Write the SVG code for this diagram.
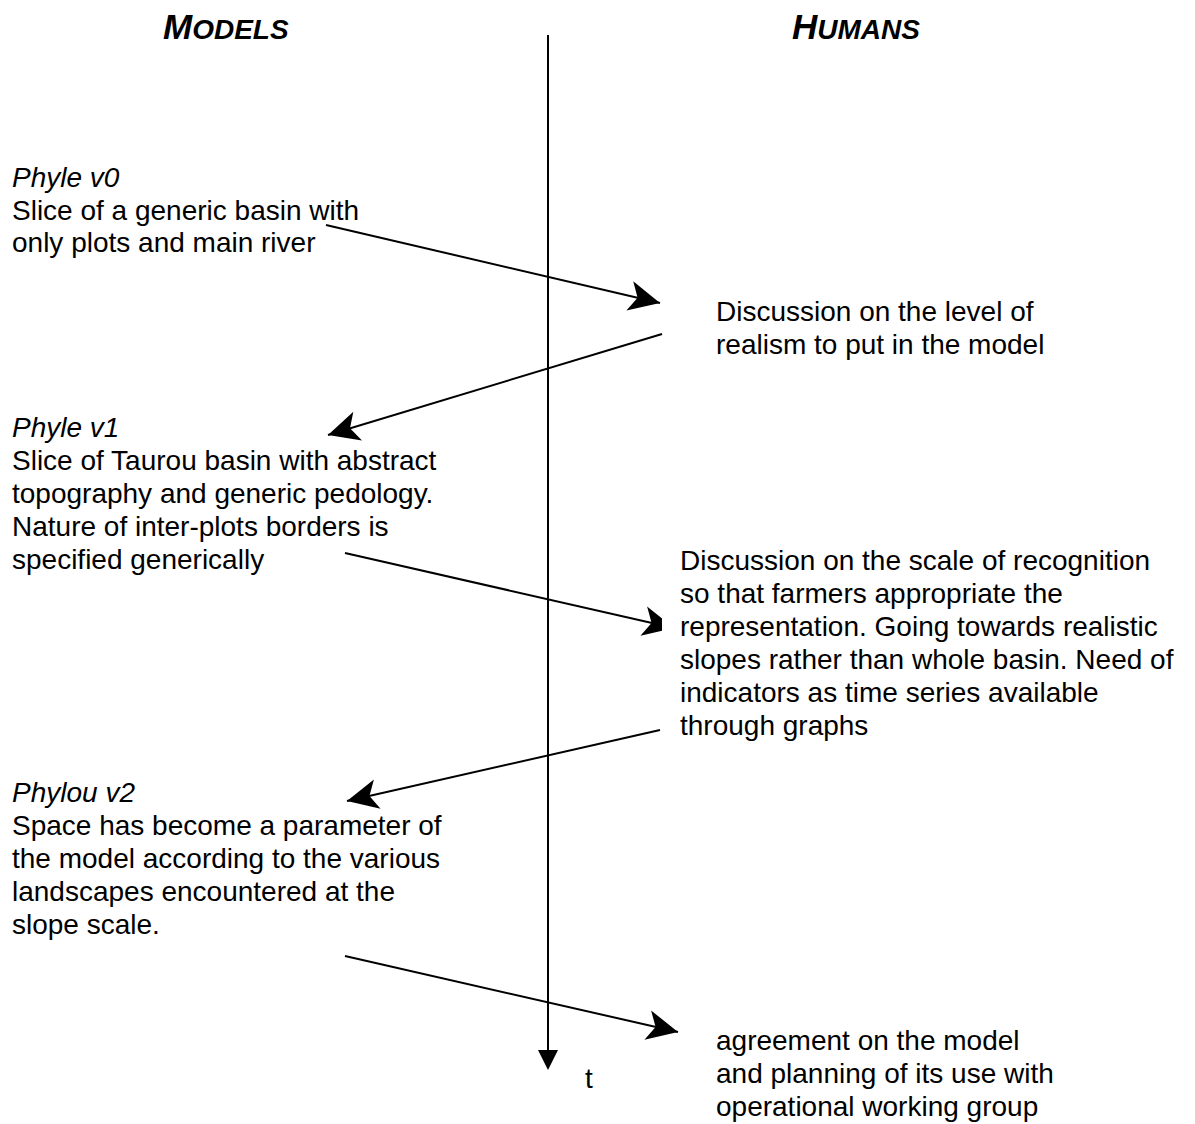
<svg xmlns="http://www.w3.org/2000/svg" width="1195" height="1124" viewBox="0 0 1195 1124">
<style>
text{font-family:"Liberation Sans",Arial,sans-serif;font-size:28px;fill:#000}
.it{font-style:italic}
.hd{font-style:italic;font-weight:bold;font-size:28px}
.big{font-size:35px}
.ln{stroke:#000;stroke-width:2;fill:none}
</style>
<defs>
<marker id="st" markerUnits="userSpaceOnUse" markerWidth="36" markerHeight="32" refX="32" refY="15" orient="auto" viewBox="0 0 36 30">
<path d="M32,15 L1,0 L9,15 L1,30 Z" fill="#000"/>
</marker>
</defs>
<g id="headers">
<text class="hd" x="163" y="39"><tspan class="big">M</tspan>ODELS</text>
<text class="hd" x="792" y="39"><tspan class="big">H</tspan>UMANS</text>
</g>
<g id="connectors">
<line class="ln" x1="548" y1="35" x2="548" y2="1052"/>
<path d="M548,1070 L538,1050 L558,1050 Z" fill="#000"/>
<line class="ln" x1="326" y1="225" x2="660" y2="303" marker-end="url(#st)"/>
<line class="ln" x1="662" y1="334" x2="328" y2="435" marker-end="url(#st)"/>
<line class="ln" x1="345" y1="553" x2="674" y2="628" marker-end="url(#st)"/>
<line class="ln" x1="660" y1="730" x2="347" y2="801" marker-end="url(#st)"/>
<line class="ln" x1="345" y1="956" x2="678" y2="1032" marker-end="url(#st)"/>
</g>
<g id="n_humans2">
<rect x="662" y="540" width="533" height="200" fill="#fff"/>
<text x="680" y="570">Discussion on the scale of recognition</text>
<text x="680" y="603">so that farmers appropriate the</text>
<text x="680" y="636">representation. Going towards realistic</text>
<text x="680" y="669">slopes rather than whole basin. Need of</text>
<text x="680" y="702">indicators as time series available</text>
<text x="680" y="735">through graphs</text>
</g>
<g id="n_v0">
<text class="it" x="12" y="187">Phyle v0</text>
<text x="12" y="220">Slice of a generic basin with</text>
<text x="12" y="252">only plots and main river</text>
</g>
<g id="n_humans1">
<text x="716" y="321">Discussion on the level of</text>
<text x="716" y="354">realism to put in the model</text>
</g>
<g id="n_v1">
<text class="it" x="12" y="437">Phyle v1</text>
<text x="12" y="470">Slice of Taurou basin with abstract</text>
<text x="12" y="503">topography and generic pedology.</text>
<text x="12" y="536">Nature of inter-plots borders is</text>
<text x="12" y="569">specified generically</text>
</g>
<g id="n_v2">
<text class="it" x="12" y="802">Phylou v2</text>
<text x="12" y="835">Space has become a parameter of</text>
<text x="12" y="868">the model according to the various</text>
<text x="12" y="901">landscapes encountered at the</text>
<text x="12" y="934">slope scale.</text>
</g>
<g id="n_humans3">
<text x="716" y="1050">agreement on the model</text>
<text x="716" y="1083">and planning of its use with</text>
<text x="716" y="1116">operational working group</text>
</g>
<g id="t_label">
<text x="585" y="1088">t</text>
</g>
</svg>
